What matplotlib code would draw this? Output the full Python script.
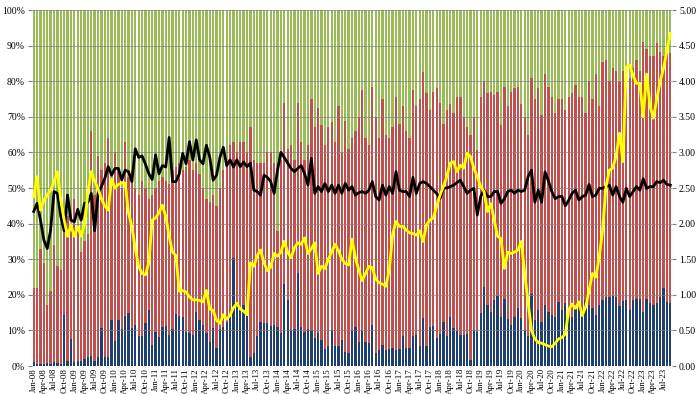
#----------------------------------------------------------------------
# import libraries
#----------------------------------------------------------------------

import numpy as np
import pandas as pd
import matplotlib
matplotlib.use("Agg")
import matplotlib.pyplot as plt

plt.rcParams['font.family'] = ['Liberation Serif', 'DejaVu Serif']

#----------------------------------------------------------------------
# data: monthly shares (%) Jan-08 .. Sep-23
#----------------------------------------------------------------------

months = pd.date_range("2008-01-01", "2023-09-01", freq="MS")

# bottom (blue) share, %
blue_share = (
    [1.0, 0.5, 0.5, 0.5, 0.8, 0.5, 1.0, 0.8, 0.5, 14.3, 1.5, 7.5]
    + [1.0, 1.3, 1.5, 2.0, 2.5, 2.8, 1.5, 2.5, 10.7, 2.5, 2.5, 12.9]
    + [7.0, 12.9, 10.5, 14.0, 15.0, 10.6, 11.5, 8.5, 8.5, 12.0, 15.7, 6.0]
    + [9.6, 8.2, 11.0, 11.2, 8.7, 10.3, 14.6, 14.0, 13.9, 9.6, 9.2, 8.7]
    + [15.1, 12.9, 11.5, 9.2, 6.8, 10.8, 5.0, 10.5, 11.0, 12.4, 13.8, 30.4]
    + [16.6, 16.3, 17.0, 14.6, 2.5, 3.6, 8.3, 12.4, 12.0, 12.0, 11.1, 11.5]
    + [11.0, 9.2, 23.0, 18.5, 10.0, 10.5, 26.0, 11.0, 9.6, 10.3, 10.0, 7.9]
    + [9.4, 7.3, 4.7, 5.5, 10.0, 5.5, 5.5, 7.2, 4.0, 3.6, 10.0, 11.0]
    + [6.8, 9.8, 6.8, 6.5, 11.4, 3.6, 4.5, 6.0, 4.5, 4.7, 5.0, 4.5]
    + [4.7, 8.3, 5.0, 5.0, 8.5, 8.7, 5.5, 13.4, 5.5, 10.9, 11.3, 7.9]
    + [9.0, 12.4, 8.3, 13.7, 10.6, 9.8, 8.7, 8.7, 9.0, 1.6, 10.0, 9.6]
    + [15.0, 22.3, 17.1, 15.3, 18.5, 19.6, 13.8, 18.9, 13.1, 11.5, 13.8, 16.2]
    + [13.4, 10.1, 8.3, 20.2, 12.9, 15.7, 12.4, 17.1, 15.3, 14.3, 13.8, 18.0]
    + [15.7, 17.6, 13.8, 13.8, 16.6, 16.2, 14.3, 18.5, 17.1, 16.2, 14.3, 17.1]
    + [18.5, 19.4, 19.4, 19.6, 19.4, 16.8, 18.3, 18.5, 15.7, 18.5, 18.7, 18.7]
    + [15.3, 18.9, 17.8, 17.1, 17.6, 19.4, 22.0, 18.0, 17.6]
)

# top of the red segment (blue + red), %
red_top = (
    [22, 22, 33, 29, 17, 21, 34, 28, 27, 38, 42, 38]
    + [47, 40, 32, 35, 37, 66, 48, 59, 55, 57, 64, 52]
    + [60, 55, 50, 63, 53, 55, 50, 48, 52, 50, 47, 48]
    + [50, 52, 53, 52, 51, 55, 56, 57, 55, 56, 58, 55]
    + [57, 54, 50, 47, 46, 48, 45, 50, 55, 57, 62, 63]
    + [60, 63, 63, 60, 67, 58, 57, 57, 57, 60, 60, 57]
    + [38, 58, 74, 61, 62, 58, 74, 63, 58, 62, 75, 67]
    + [72.6, 67.7, 62, 67, 68.5, 63, 73, 60, 68.9, 61, 64, 66]
    + [70, 77.5, 64, 62, 78.4, 70, 64, 75, 65, 64, 67, 75.6]
    + [68, 73, 66, 64, 77.5, 73, 75, 82.6, 76.6, 72, 77, 78]
    + [74, 68, 72, 73.7, 71, 75.6, 75.6, 70, 67, 65, 70, 60.7]
    + [75.6, 80, 76.6, 77, 76, 77, 67.7, 78.4, 73, 77, 78, 78.4]
    + [73.7, 70, 65, 80.8, 75, 78, 70.5, 82, 78.4, 75.6, 71, 75]
    + [75, 72, 75.6, 76.6, 78.8, 75.6, 75.6, 71, 80, 75, 82, 73]
    + [85.5, 86, 80, 83.6, 83, 79.9, 83, 84, 80.8, 83.6, 86, 83]
    + [91, 89, 87, 87, 90.6, 88.2, 87, 88.8, 88]
)

# black line, % (left axis)
black_line = (
    [43.4, 45.7, 41.0, 35.4, 33.0, 38.2, 49.0, 48.5, 42.0, 38.0, 48.0, 41.0]
    + [40.5, 44.0, 41.0, 45.7, 46.0, 48.5, 38.0, 48.5, 50.4, 52.7, 56.0, 53.6]
    + [55.5, 55.5, 52.3, 55.0, 54.6, 51.8, 61.0, 58.6, 59.0, 56.7, 54.0, 52.4]
    + [59.3, 54.0, 56.3, 55.9, 64.2, 51.8, 51.8, 54.0, 59.7, 56.8, 63.0, 57.9]
    + [63.5, 57.9, 56.8, 62.0, 58.6, 52.2, 53.6, 58.6, 61.4, 56.3, 57.9, 55.9]
    + [57.9, 56.0, 57.3, 56.0, 57.0, 49.4, 49.0, 48.0, 53.6, 53.0, 51.8, 48.5]
    + [55.0, 60.0, 58.6, 57.0, 55.5, 54.6, 55.5, 56.3, 54.0, 50.8, 58.3, 48.5]
    + [50.4, 49.0, 51.3, 49.0, 50.8, 48.5, 50.8, 48.5, 51.3, 49.4, 50.4, 48.0]
    + [48.7, 49.0, 48.5, 49.4, 51.8, 47.6, 46.6, 50.8, 48.0, 50.4, 48.5, 54.6]
    + [49.4, 49.0, 49.0, 47.6, 53.0, 48.5, 51.3, 51.8, 51.3, 50.4, 49.4, 48.5]
    + [47.0, 50.0, 50.0, 50.4, 50.8, 51.5, 52.2, 50.4, 48.5, 49.4, 49.9, 42.4]
    + [47.6, 49.4, 47.6, 47.6, 49.0, 49.0, 45.7, 47.0, 49.0, 49.4, 48.5, 49.4]
    + [49.0, 49.4, 53.2, 55.0, 46.0, 49.4, 46.0, 54.5, 52.0, 49.0, 47.0, 47.6]
    + [47.6, 45.0, 46.6, 48.5, 49.4, 46.6, 47.6, 48.0, 51.0, 47.6, 48.0, 49.9]
    + [49.9, 50.4, 50.8, 48.0, 50.4, 47.6, 46.0, 49.9, 47.6, 49.0, 50.4, 49.4]
    + [52.6, 49.9, 50.4, 50.4, 51.8, 51.5, 52.2, 51.0, 50.8]
)

# yellow line (right axis, 0-5)
yellow_line = (
    [2.38, 2.66, 2.19, 2.33, 2.40, 2.47, 2.59, 2.73, 2.33, 2.05, 1.82, 1.98]
    + [1.82, 1.96, 1.82, 2.00, 2.43, 2.73, 2.60, 2.49, 2.35, 2.25, 2.19, 2.62]
    + [2.50, 2.55, 2.57, 2.57, 2.15, 1.96, 1.65, 1.40, 1.30, 1.28, 1.45, 2.05]
    + [2.08, 2.15, 2.26, 2.10, 1.82, 1.60, 1.55, 1.05, 1.06, 1.04, 0.97, 0.93]
    + [0.93, 0.92, 0.90, 1.06, 0.80, 0.78, 0.64, 0.60, 0.72, 0.66, 0.71, 0.82]
    + [0.88, 0.80, 0.77, 0.72, 1.45, 1.40, 1.55, 1.63, 1.45, 1.34, 1.39, 1.58]
    + [1.54, 1.60, 1.75, 1.60, 1.52, 1.66, 1.73, 1.71, 1.80, 1.58, 1.65, 1.73]
    + [1.30, 1.40, 1.37, 1.50, 1.60, 1.71, 1.62, 1.50, 1.44, 1.42, 1.78, 1.52]
    + [1.35, 1.20, 1.30, 1.40, 1.38, 1.22, 1.17, 1.15, 1.12, 1.35, 1.85, 2.03]
    + [1.96, 1.96, 1.91, 1.87, 1.86, 1.84, 1.90, 1.75, 1.98, 2.05, 2.08, 2.24]
    + [2.40, 2.52, 2.66, 2.85, 2.87, 2.73, 2.82, 2.78, 2.99, 2.94, 2.78, 2.66]
    + [2.52, 2.45, 2.17, 2.28, 2.05, 1.82, 1.79, 1.37, 1.60, 1.58, 1.60, 1.63]
    + [1.75, 1.30, 0.90, 0.50, 0.38, 0.33, 0.32, 0.30, 0.28, 0.27, 0.32, 0.38]
    + [0.40, 0.45, 0.79, 0.87, 0.81, 0.90, 0.71, 0.83, 1.06, 1.30, 1.25, 1.53]
    + [1.91, 2.52, 2.75, 2.78, 2.95, 3.27, 2.87, 4.20, 4.23, 4.08, 3.97, 3.97]
    + [3.50, 4.10, 3.65, 3.48, 3.75, 4.00, 4.18, 4.43, 4.67]
)

blue = np.array(blue_share)
red = np.array(red_top) - blue
green = 100 - np.array(red_top)
x = np.arange(len(months))

#----------------------------------------------------------------------
# plot
#----------------------------------------------------------------------

fig = plt.figure(figsize=(7, 3.94), dpi=100)
ax = fig.add_axes([32 / 700, 28 / 394, 640 / 700, 356 / 394])

bw = 0.68
ax.bar(x, blue, width=bw, color='#1F3F6E', linewidth=0)
ax.bar(x, red, bottom=blue, width=bw, color='#C0504D', linewidth=0)
ax.bar(x, green, bottom=blue + red, width=bw, color='#9BBB59', linewidth=0)
ax.plot(x, black_line, color='black', linewidth=2.0)

ax.set_xlim(-0.5, len(x) - 0.5)
ax.set_ylim(0, 100)
ax.set_yticks(np.arange(0, 101, 10))
ax.set_yticklabels([f"{v}%" for v in range(0, 101, 10)])
ax.set_axisbelow('line')
ax.yaxis.grid(True, color='#7f7f7f', linewidth=0.6, alpha=0.8)

ax.set_xticks(x[::3])
ax.set_xticklabels([d.strftime('%b-%y') for d in months[::3]], rotation=90)

ax2 = ax.twinx()
ax2.plot(x, yellow_line, color='#FFFF00', linewidth=2.0)
ax2.set_ylim(0, 5)
ax2.set_yticks(np.arange(0, 5.01, 0.5))
ax2.set_yticklabels([f"{v:.2f}" for v in np.arange(0, 5.01, 0.5)])

for a in (ax, ax2):
    for s in a.spines.values():
        s.set_visible(False)
    a.tick_params(labelsize=7, length=3, color='#808080', pad=2)
ax.tick_params(axis='x', length=0, pad=1.5, labelsize=6.4)

plt.savefig("out.png", dpi=100)
